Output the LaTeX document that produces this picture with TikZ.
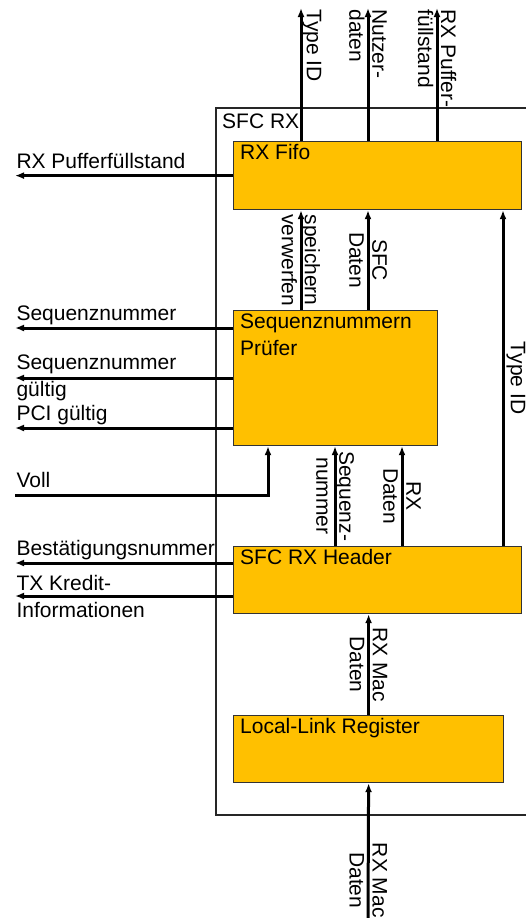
\documentclass[tikz,border=0pt]{standalone}
\usepackage{fontspec}
\setmainfont{Liberation Sans}
\usetikzlibrary{arrows.meta}

\definecolor{blockfill}{HTML}{FFC000}

\begin{document}
\begin{tikzpicture}[x=1pt, y=-1pt, >={Latex[length=9pt,width=7pt]},
    every node/.style={font=\fontsize{21}{27}\selectfont}]

% --- Stile ---
\tikzset{
    block/.style={draw=black!80, line width=1.2pt, fill=blockfill, inner sep=0pt, anchor=north west},
    blocklab/.style={anchor=north west, inner sep=0pt, align=left, xshift=7pt, yshift=-3.2pt},
    frame/.style={draw=black!85, line width=1.3pt},
    sig/.style={->, line width=3pt},
    hlab/.style={anchor=base west, inner sep=0pt, yshift=7.5pt},
    hlabtwo/.style={anchor=west, inner sep=0pt, align=left},
    vlab/.style={rotate=-90, inner sep=0pt, font=\fontsize{21}{23}\selectfont}
}

    \useasboundingbox (0,0) rectangle (526,918);

    % Rahmen SFC RX
    \draw[frame] (526,108) -| (216,815) -- (526,815);
    \node[anchor=base west, inner sep=0pt] (sfcrx) at (222,128) {SFC RX};

    % Bloecke
    \node[block, minimum width=288pt, minimum height=68pt,
          label={[blocklab]north west:RX Fifo}] (fifo) at (233,141) {};
    \node[block, minimum width=204pt, minimum height=135pt,
          label={[blocklab]north west:{Sequenznummern\\Prüfer}}] (pruefer) at (233,310) {};
    \node[block, minimum width=288pt, minimum height=67pt,
          label={[blocklab]north west:SFC RX Header}] (header) at (233,546) {};
    \node[block, minimum width=270pt, minimum height=67pt,
          label={[blocklab]north west:Local-Link Register}] (llreg) at (233,715) {};

    % Spalten und Zeilen der Signale
    \coordinate (links) at (15,0);
    \coordinate (xtyp) at (301,0);
    \coordinate (xnutz) at (368,0);
    \coordinate (xpuff) at (437,0);
    \coordinate (xtypr) at (503,0);
    \coordinate (xseq) at (335,0);
    \coordinate (xrxd) at (402,0);
    \coordinate (xvoll) at (268,0);

    % Ausgaenge oben
    \coordinate (typout) at (301,8);
    \coordinate (nutzout) at (368,8);
    \coordinate (puffout) at (437,8);
    \draw[sig] (fifo.north -| xtyp) -- (typout)
        node[vlab, anchor=south west] (typlab) {Type ID};
    \draw[sig] (fifo.north -| xnutz) -- (nutzout)
        node[vlab, anchor=west, align=left] (nutzlab) {Nutzer-\\daten};
    \draw[sig] (fifo.north -| xpuff) -- (puffout)
        node[vlab, anchor=west, align=left] (pufflab) {RX Puffer-\\füllstand};

    % Pruefer -> Fifo
    \draw[sig] (pruefer.north -| xtyp) -- (fifo.south -| xtyp)
        node[vlab, midway, align=center] (speichlab) {speichern\\verwerfen};
    \draw[sig] (pruefer.north -| xnutz) -- (fifo.south -| xnutz)
        node[vlab, midway, align=center] (sfclab) {SFC\\Daten};

    % Header -> Fifo
    \draw[sig] (header.north -| xtypr) -- (fifo.south -| xtypr)
        node[vlab, midway, anchor=south, inner sep=2pt] (typrlab) {Type ID};

    % Header -> Pruefer
    \draw[sig] (header.north -| xseq) -- (pruefer.south -| xseq)
        node[vlab, midway, align=center] (seqlab) {Sequenz-\\nummer};
    \draw[sig] (header.north -| xrxd) -- (pruefer.south -| xrxd)
        node[vlab, midway, align=center] (rxdlab) {RX\\Daten};

    % Local-Link -> Header
    \draw[sig] (llreg.north) -- (header.south -| llreg.north)
        node[vlab, midway, align=center] (maclab) {RX Mac\\Daten};

    % Eingang unten
    \coordinate (macin) at (368,918);
    \draw[sig] (macin) -- (llreg.south)
        node[vlab, pos=0.28, align=center] (macinlab) {RX Mac\\Daten};

    % Ausgaenge links
    \coordinate (seqout) at (15,328);
    \coordinate (seqokout) at (15,378);
    \coordinate (pciout) at (15,428);
    \coordinate (bestout) at (15,563);
    \coordinate (kredout) at (15,596);
    \draw[sig] (fifo.west) -- (fifo.west -| links)
        node[hlab] (pufflinks) {RX Pufferfüllstand};
    \draw[sig] (pruefer.west |- seqout) -- (seqout)
        node[hlab] (seqlinks) {Sequenznummer};
    \draw[sig] (pruefer.west |- seqokout) -- (seqokout)
        node[hlabtwo] (seqoklinks) {Sequenznummer\\gültig};
    \draw[sig] (pruefer.west |- pciout) -- (pciout)
        node[hlab] (pcilinks) {PCI gültig};
    \draw[sig] (header.west |- bestout) -- (bestout)
        node[hlab] (bestlinks) {Bestätigungsnummer};
    \draw[sig] (header.west |- kredout) -- (kredout)
        node[hlabtwo] (kredlinks) {TX Kredit-\\Informationen};

    % Eingang Voll
    \coordinate (voll) at (15,495);
    \draw[sig] (voll) -| (pruefer.south -| xvoll)
        node[hlab, pos=0] (volllab) {Voll};

\end{tikzpicture}
\end{document}
